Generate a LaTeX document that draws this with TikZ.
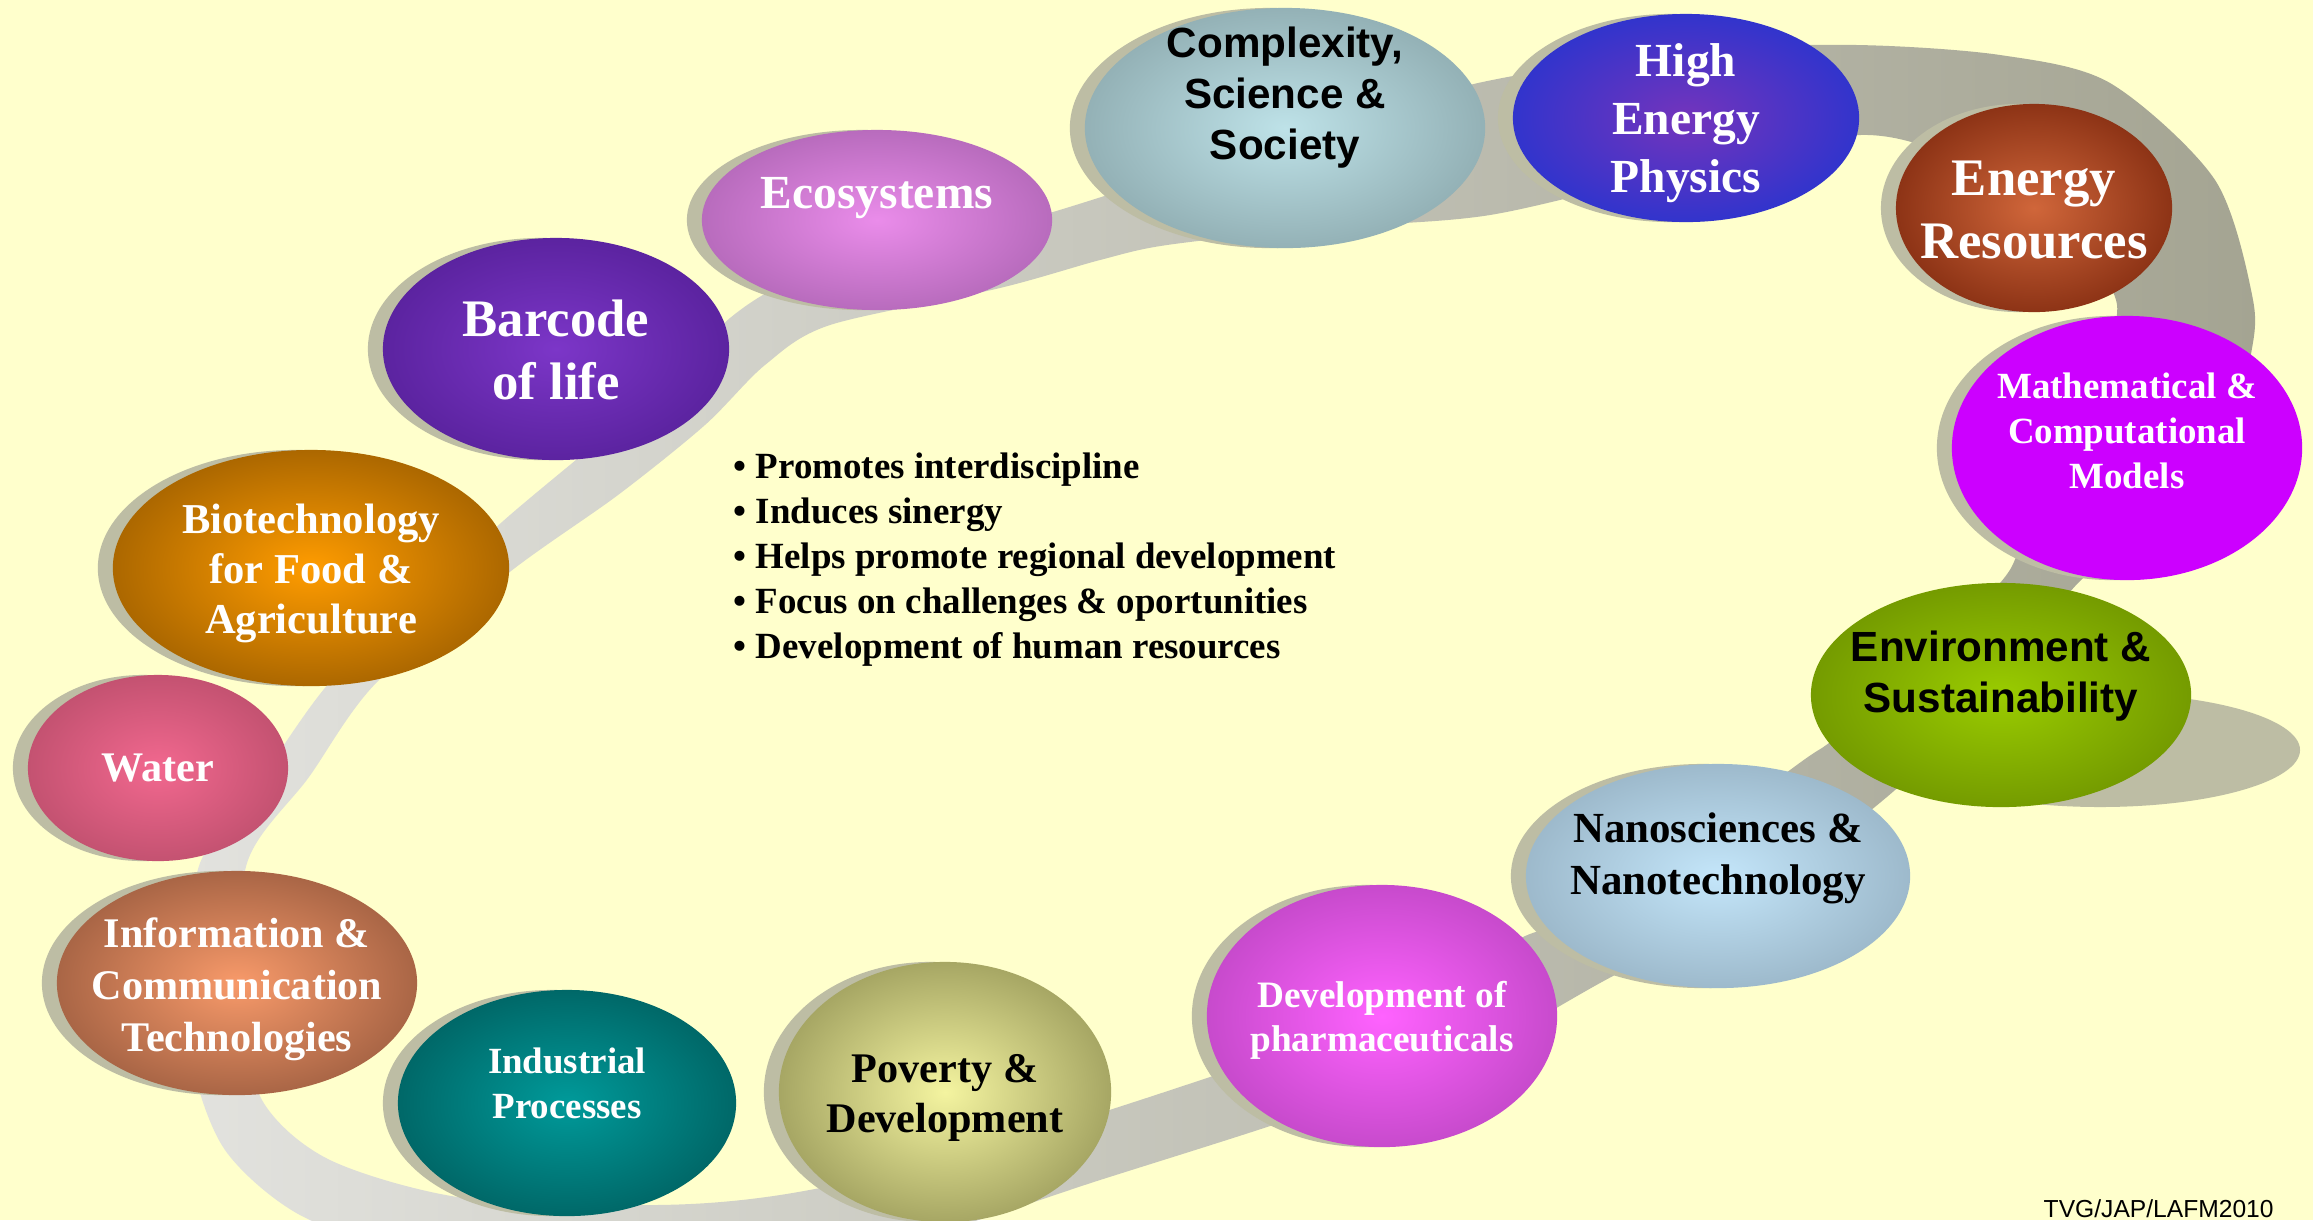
\documentclass[tikz,border=0pt]{standalone}
\usepackage{fontspec}
\setmainfont{Liberation Serif}
\setsansfont{Liberation Sans}
\usetikzlibrary{shapes.geometric}

\definecolor{bgyellow}{HTML}{FFFFCC}
\definecolor{bandlight}{HTML}{E2E2DE}
\definecolor{banddark}{HTML}{A4A492}
\definecolor{shadowcol}{HTML}{BDBDA4}
\definecolor{mathmag}{HTML}{CC00FF}
\definecolor{complexityin}{HTML}{BEE2E8}  \definecolor{complexityout}{HTML}{7A9498}
\definecolor{hepin}{HTML}{7434BC}         \definecolor{hepout}{HTML}{0A34D6}
\definecolor{energyin}{HTML}{D0663A}      \definecolor{energyout}{HTML}{651500}
\definecolor{envin}{HTML}{9ACC00}         \definecolor{envout}{HTML}{5E7E00}
\definecolor{nanoin}{HTML}{C4E6FA}        \definecolor{nanoout}{HTML}{869FB0}
\definecolor{pharmain}{HTML}{FF62FF}      \definecolor{pharmaout}{HTML}{A63CAE}
\definecolor{povertyin}{HTML}{F4F4A0}     \definecolor{povertyout}{HTML}{787840}
\definecolor{industrialin}{HTML}{009A9A}  \definecolor{industrialout}{HTML}{004A4A}
\definecolor{ictin}{HTML}{F89A6A}         \definecolor{ictout}{HTML}{7A4630}
\definecolor{waterin}{HTML}{F2688F}       \definecolor{waterout}{HTML}{A8455F}
\definecolor{biotechin}{HTML}{FF9C00}     \definecolor{biotechout}{HTML}{7A4800}
\definecolor{barcodein}{HTML}{7C36C8}     \definecolor{barcodeout}{HTML}{481888}
\definecolor{ecoin}{HTML}{EA8CEA}         \definecolor{ecoout}{HTML}{9A58A2}

\makeatletter
\pgfdeclareradialshading[tikz@radial@inner,tikz@radial@outer]{glow}{\pgfpoint{0bp}{0bp}}{%
  color(0bp)=(tikz@radial@inner); color(40bp)=(tikz@radial@outer); color(50bp)=(tikz@radial@outer)}
\makeatother

\begin{document}
\begin{tikzpicture}[x=0.01cm,y=-0.01cm,
  topic/.style 2 args={ellipse,inner sep=0pt,minimum width=#1*0.02cm,minimum height=#2*0.02cm,
    preaction={fill=shadowcol,transform canvas={xshift=-0.15cm}}},
  flat/.style 2 args={ellipse,inner sep=0pt,minimum width=#1*0.02cm,minimum height=#2*0.02cm},
  glowing/.style={inner color=#1in,outer color=#1out,shading=glow},
  txt/.style 2 args={font=\fontsize{#1}{#2}\selectfont\bfseries,align=center,inner sep=0pt},
  light/.style={text=white},
  dark/.style={text=black}]
  \useasboundingbox (0,0) rectangle (2313,1220);
  \fill[bgyellow] (0,0) rectangle (2313,1220);
  % the ring behind the topics
  \shade[even odd rule,left color=bandlight,right color=banddark]
    plot[smooth cycle] coordinates {(192,1060) (193,960) (200,863) (262,777) (330,682) (420,600)
      (502,522) (600,440) (680,372) (730,318) (790,282) (900,255) (1053,212) (1250,150) (1478,83)
      (1700,50) (1857,45) (2000,55) (2110,83) (2215,180) (2253,300) (2250,360) (2230,450) (2180,515)
      (2126,550) (2078,583) (1990,690) (1895,790) (1750,900) (1600,983) (1450,1065) (1267,1127)
      (1100,1180) (950,1228) (780,1262) (600,1272) (420,1255) (300,1215) (225,1150)}
    plot[smooth cycle] coordinates {(262,1100) (240,1000) (247,863) (309,777) (377,682) (511,571)
      (618,495) (705,425) (765,365) (830,325) (1000,288) (1100,260) (1167,245) (1320,228) (1490,215)
      (1690,168) (1860,135) (1960,160) (2060,220) (2112,290) (2115,330) (2095,430) (2055,505)
      (2020,550) (2000,583) (1900,690) (1829,743) (1790,770) (1600,913) (1523,937) (1380,1020)
      (1210,1077) (1100,1113) (950,1160) (780,1195) (655,1205) (464,1198) (330,1160)};
  \fill[shadowcol] (2100,750) ellipse [x radius=200,y radius=57];
  % topics
  \node[topic={200}{120},glowing=complexity] (complexity) at (1285,128) {};
  \node[txt={12}{14.5},dark,font=\sffamily\fontsize{12}{14.5}\selectfont\bfseries] (complexity-t) at ([yshift=0.30cm]complexity.center) {Complexity,\\Science \&\\Society};
  \node[topic={173}{104},glowing=hep] (hep) at (1686,118) {};
  \node[txt={13.5}{16.4},light] (hep-t) at ([yshift=-0.05cm]hep.center) {High\\Energy\\Physics};
  \node[topic={138}{104},glowing=energy] (energy) at (2034,208) {};
  \node[txt={15}{18},light] (energy-t) at ([yshift=-0.02cm]energy.center) {Energy\\Resources};
  \node[topic={175}{132},fill=mathmag] (math) at (2127,448) {};
  \node[txt={10.5}{12.7},light] (math-t) at ([yshift=0.17cm]math.center) {Mathematical \&\\Computational\\Models};
  \node[flat={190}{112},glowing=env] (environment) at (2001,695) {};
  \node[txt={12}{14.3},dark,font=\sffamily\fontsize{12}{14.3}\selectfont\bfseries] (environment-t) at ([yshift=0.19cm]environment.center) {Environment \&\\Sustainability};
  \node[topic={192}{112},glowing=nano] (nano) at (1718,876) {};
  \node[txt={12.2}{14.7},dark] (nano-t) at ([yshift=0.18cm]nano.center) {Nanosciences \&\\Nanotechnology};
  \node[topic={175}{131},glowing=pharma] (pharma) at (1382,1016) {};
  \node[txt={10.6}{12.6},light] (pharma-t) at ([yshift=-0.04cm]pharma.center) {Development of\\pharmaceuticals};
  \node[topic={166}{130},glowing=poverty] (poverty) at (945,1092) {};
  \node[txt={12}{14.2},dark] (poverty-t) at ([yshift=-0.06cm]poverty.center) {Poverty \&\\Development};
  \node[topic={169}{113},glowing=industrial] (industrial) at (567,1103) {};
  \node[txt={10.5}{12.8},light] (industrial-t) at ([yshift=0.2cm]industrial.center) {Industrial\\Processes};
  \node[topic={180}{112},glowing=ict] (ict) at (237,983) {};
  \node[txt={12}{14.8},light] (ict-t) at ([yshift=-0.06cm]ict.center) {Information \&\\Communication\\Technologies};
  \node[topic={130}{93},glowing=water] (water) at (158,768) {};
  \node[txt={12}{14},light] (water-t) at (water.center) {Water};
  \node[topic={198}{118},glowing=biotech] (biotech) at (311,568) {};
  \node[txt={12.1}{14.2},light] (biotech-t) at ([yshift=-0.05cm]biotech.center) {Biotechnology\\for Food \&\\Agriculture};
  \node[topic={173}{111},glowing=barcode] (barcode) at (556,349) {};
  \node[txt={15}{18},light] (barcode-t) at ([yshift=-0.01cm]barcode.center) {Barcode\\of life};
  \node[topic={175}{90},glowing=eco] (ecosystems) at (877,220) {};
  \node[txt={13.5}{16},light] (ecosystems-t) at ([yshift=0.22cm]ecosystems.center) {Ecosystems};
  % list in the middle
  \node[txt={10.5}{12.8},dark,align=left,anchor=west] (aims) at (733,560) {\textbullet{} Promotes interdiscipline\\
    \textbullet{} Induces sinergy\\
    \textbullet{} Helps promote regional development\\
    \textbullet{} Focus on challenges \& oportunities\\
    \textbullet{} Development of human resources};
  \node[inner sep=0pt,anchor=base west,font=\sffamily\fontsize{7}{8}\selectfont] (credit) at (2043,1217) {TVG/JAP/LAFM2010};
\end{tikzpicture}
\end{document}
